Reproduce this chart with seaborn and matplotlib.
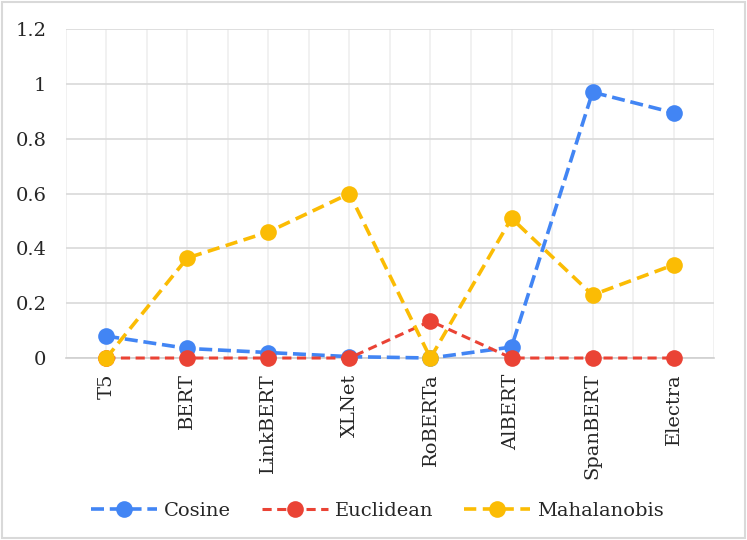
import matplotlib
matplotlib.use('Agg')
import matplotlib.pyplot as plt
from matplotlib.ticker import MultipleLocator, FuncFormatter
import pandas as pd
import seaborn as sns

models = ['T5', 'BERT', 'LinkBERT', 'XLNet', 'RoBERTa', 'AlBERT', 'SpanBERT', 'Electra']
cosine = [0.08, 0.035, 0.02, 0.005, 0.0, 0.04, 0.97, 0.895]
euclidean = [0.0, 0.0, 0.0, 0.0, 0.135, 0.0, 0.0, 0.0]
mahalanobis = [0.0, 0.365, 0.46, 0.6, 0.0, 0.51, 0.23, 0.34]

series = {'Cosine': cosine, 'Euclidean': euclidean, 'Mahalanobis': mahalanobis}
colors = {'Cosine': '#4285F4', 'Euclidean': '#EA4335', 'Mahalanobis': '#FBBC04'}
dashes = {'Cosine': (3.6, 1.6), 'Euclidean': (3, 1.8), 'Mahalanobis': (3.4, 1.8)}
widths = {'Cosine': 2.6, 'Euclidean': 2.2, 'Mahalanobis': 2.6}

sns.set_style('white')
plt.rcParams['font.family'] = ['DejaVu Serif', 'Liberation Serif']

fig = plt.figure(figsize=(7.47, 5.4), dpi=100)
ax = fig.add_axes([0.088, 0.337, 0.868, 0.609])

for name, vals in series.items():
    df = pd.DataFrame({'model': models, 'value': vals})
    sns.lineplot(data=df, x='model', y='value', ax=ax, color=colors[name],
                 marker='o', markersize=12, markeredgewidth=0, clip_on=False, zorder=3,
                 linewidth=widths[name], dashes=dashes[name], label=name, sort=False)

ax.set_xlim(-0.5, len(models) - 0.5)
ax.set_ylim(0, 1.2)
ax.yaxis.set_major_locator(MultipleLocator(0.2))
ax.yaxis.set_major_formatter(FuncFormatter(lambda v, p: f'{v:g}'))
ax.xaxis.set_minor_locator(MultipleLocator(0.5))
ax.set_xticks(range(len(models)))
ax.set_xticklabels(models, rotation=90, va='top', ha='center')
ax.grid(axis='y', which='major', color='#D9D9D9', linewidth=1.2)
ax.grid(axis='x', which='both', color='#EFEFEF', linewidth=1.2)
ax.set_axisbelow(True)
ax.tick_params(axis='both', labelsize=14, length=0)
ax.tick_params(axis='x', pad=11)
ax.tick_params(axis='y', pad=14)
ax.set_xlabel('')
ax.set_ylabel('')
for s in ['top', 'right', 'left']:
    ax.spines[s].set_visible(False)
ax.spines['bottom'].set_color('#D0D0D0')
ax.spines['bottom'].set_linewidth(1.2)

ax.get_legend().remove()
handles, labels = ax.get_legend_handles_labels()
fig.legend(handles, labels, loc='center', bbox_to_anchor=(0.505, 0.054), ncol=3,
           frameon=False, fontsize=14, handlelength=3.4, columnspacing=1.6, handletextpad=0.35)

fig.patches.append(plt.Rectangle((0.003, 0.004), 0.994, 0.992, transform=fig.transFigure,
                                 fill=False, edgecolor='#D9D9D9', linewidth=1.5))

fig.savefig('out.png', dpi=100)
